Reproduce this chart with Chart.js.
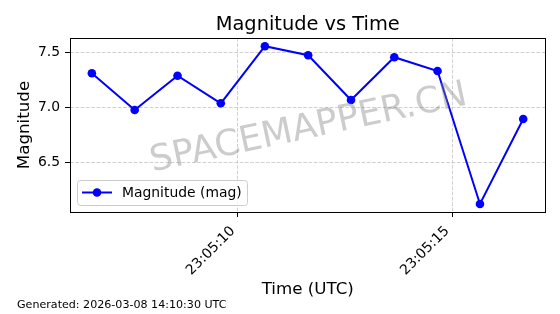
<!DOCTYPE html>
<html><head><meta charset="utf-8">
<script src="https://cdn.jsdelivr.net/npm/chart.js@4/dist/chart.umd.min.js"></script>
<style>html,body{margin:0;padding:0;background:#fff}#wrap{width:560px;height:314px;position:relative}</style>
</head><body><div id="wrap"><canvas id="c" width="560" height="314"></canvas></div>
<script>
// seconds after 23:05:00 UTC
const times = [6.59, 7.59, 8.59, 9.60, 10.63, 11.64, 12.64, 13.65, 14.66, 15.65, 16.66];
const magnitudes = [7.31, 6.975, 7.287, 7.036, 7.555, 7.473, 7.066, 7.455, 7.33, 6.121, 6.894];
const xTickValues = [10, 15];
const xTickLabels = ['23:05:10', '23:05:15'];
const yTickValues = [6.5, 7.0, 7.5];
const yTickLabels = ['6.5', '7.0', '7.5'];
const seriesLabel = 'Magnitude (mag)';
const titleText = 'Magnitude vs Time';
const xTitle = 'Time (UTC)';
const yTitle = 'Magnitude';
const footerText = 'Generated: 2026-03-08 14:10:30 UTC';
const watermarkText = 'SPACEMAPPER.CN';

const FONT = "'DejaVu Sans', sans-serif";
const BLUE = '#0000ff';

const extras = {
  id: 'extras',
  afterDatasetsDraw(chart) {
    const ctx = chart.ctx, a = chart.chartArea;
    // watermark
    ctx.save();
    ctx.translate((a.left + a.right) / 2, (a.top + a.bottom) / 2);
    ctx.rotate(-12 * Math.PI / 180);
    ctx.font = '36px ' + FONT;
    ctx.fillStyle = 'rgba(128,128,128,0.4)';
    ctx.textAlign = 'center';
    ctx.textBaseline = 'alphabetic';
    ctx.fillText(watermarkText, 0, 36 * 0.729 / 2);
    ctx.restore();
    // legend
    ctx.save();
    const lx = a.left + 7, ly = a.bottom - 32, lw = 170, lh = 25;
    ctx.beginPath();
    ctx.roundRect(lx + 0.5, ly + 0.5, lw, lh, 3);
    ctx.fillStyle = 'rgba(255,255,255,0.8)';
    ctx.fill();
    ctx.strokeStyle = '#cccccc';
    ctx.lineWidth = 1;
    ctx.stroke();
    const ds = chart.data.datasets[0];
    const cy = ly + 12.5;
    ctx.beginPath();
    ctx.moveTo(lx + 5, cy); ctx.lineTo(lx + 35, cy);
    ctx.strokeStyle = ds.borderColor; ctx.lineWidth = 2; ctx.stroke();
    ctx.beginPath();
    ctx.arc(lx + 20, cy, 4.3, 0, Math.PI * 2);
    ctx.fillStyle = ds.pointBackgroundColor; ctx.fill();
    ctx.font = '13.9px ' + FONT;
    ctx.fillStyle = '#000';
    ctx.textAlign = 'left';
    ctx.textBaseline = 'middle';
    ctx.fillText(ds.label, lx + 45, cy + 0.5);
    ctx.restore();
  },
  afterDraw(chart) {
    const ctx = chart.ctx, a = chart.chartArea;
    ctx.save();
    ctx.strokeStyle = '#000';
    ctx.lineWidth = 1;
    ctx.strokeRect(Math.round(a.left) + 0.5, Math.round(a.top) + 0.5, Math.round(a.right - a.left) - 1, Math.round(a.bottom - a.top));
    ctx.font = '11.1px ' + FONT;
    ctx.fillStyle = '#000';
    ctx.textAlign = 'left';
    ctx.textBaseline = 'middle';
    ctx.fillText(footerText, 17, 305);
    ctx.restore();
  }
};

new Chart(document.getElementById('c'), {
  type: 'line',
  data: {
    datasets: [{
      label: seriesLabel,
      data: times.map((t, i) => ({x: t, y: magnitudes[i]})),
      borderColor: BLUE,
      backgroundColor: BLUE,
      pointBackgroundColor: BLUE,
      pointBorderWidth: 0,
      pointRadius: 4.3,
      borderWidth: 2,
      tension: 0,
      fill: false
    }]
  },
  options: {
    responsive: false,
    devicePixelRatio: 1,
    animation: false,
    layout: {padding: {left: 0, right: 14.5, top: 0, bottom: 0}},
    plugins: {
      legend: {display: false},
      tooltip: {enabled: false},
      title: {
        display: true, text: titleText, fullSize: false, color: '#000',
        font: {family: FONT, size: 19.4, weight: 'normal', lineHeight: 1.2},
        padding: {top: 13, bottom: 1.7}
      }
    },
    scales: {
      x: {
        type: 'linear', min: 6.08, max: 17.18,
        afterBuildTicks: s => { s.ticks = xTickValues.map(v => ({value: v})); },
        afterFit: s => { s.height = 102; },
        ticks: {
          autoSkip: false, maxRotation: 45, minRotation: 45, padding: 6, labelOffset: -5,
          color: '#000', font: {family: FONT, size: 13.9},
          callback: v => xTickLabels[xTickValues.indexOf(v)]
        },
        grid: {color: 'rgba(176,176,176,0.6)', lineWidth: 1, tickLength: 5, tickColor: '#000', tickWidth: 1, tickBorderDash: []},
        border: {display: false, dash: [3.7, 1.6]},
        title: {display: true, text: xTitle, color: '#000', font: {family: FONT, size: 16.7, lineHeight: 1.2}, padding: {top: 0, bottom: 14}}
      },
      y: {
        type: 'linear', min: 6.048, max: 7.63,
        afterBuildTicks: s => { s.ticks = yTickValues.map(v => ({value: v})); },
        afterFit: s => { s.width = 70; },
        ticks: {
          padding: 5, color: '#000', font: {family: FONT, size: 13.9},
          callback: v => yTickLabels[yTickValues.indexOf(v)]
        },
        grid: {color: 'rgba(176,176,176,0.6)', lineWidth: 1, tickLength: 5, tickColor: '#000', tickWidth: 1, tickBorderDash: []},
        border: {display: false, dash: [3.7, 1.6]},
        title: {display: true, text: yTitle, color: '#000', font: {family: FONT, size: 16.7, lineHeight: 1.2}, padding: {top: 14.5, bottom: 0}}
      }
    }
  },
  plugins: [extras]
});
</script></body></html>
